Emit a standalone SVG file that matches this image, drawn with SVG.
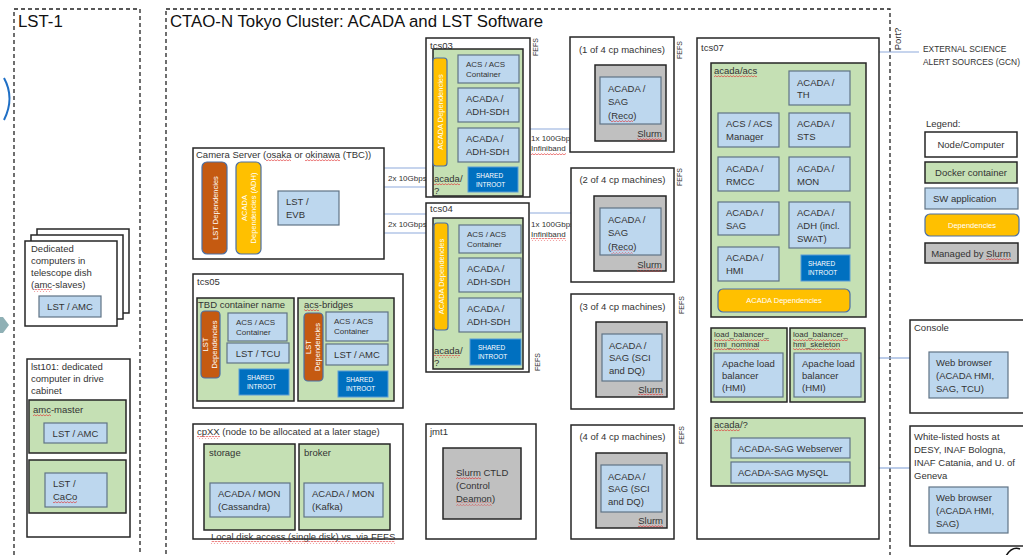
<svg xmlns="http://www.w3.org/2000/svg" width="1023" height="555" viewBox="0 0 1023 555">
<defs>
<pattern id="squig" patternUnits="userSpaceOnUse" width="3" height="3">
<path d="M0,2.2 L1.5,0.6 L3,2.2" fill="none" stroke="#e03030" stroke-width="0.7"/>
</pattern>
</defs>
<style>
.node{fill:#fff;stroke:#262626;stroke-width:1.5}
.cont{fill:#c5e0b4;stroke:#262626;stroke-width:1.5}
.app{fill:#bdd7ee;stroke:#5f7385;stroke-width:1.2}
.slurm{fill:#c0c0c0;stroke:#262626;stroke-width:1.5}
.dep{fill:#ffc000;stroke:#4a6fa5;stroke-width:1.2}
.ldep{fill:#c55a11;stroke:#4a6fa5;stroke-width:1.2}
.intro{fill:#0070c0;stroke:#5b9bd5;stroke-width:1}
.dash{fill:none;stroke:#222;stroke-width:1.3;stroke-dasharray:4 3}
.link{stroke:#8eaadb;stroke-width:1.2;fill:none}
.sq{fill:url(#squig)}
text{font-family:"Liberation Sans",Arial,sans-serif;fill:#333}
.t{font-size:9.5px}
.s{font-size:8px}
.xs{font-size:6.5px;fill:#fff}
.w{fill:#fff;font-size:7.5px}
.h{font-size:16.8px;fill:#111}
.f{font-size:7px}
.m{text-anchor:middle}
.e{text-anchor:end}
</style>

<!-- frames -->
<g id="lst1-frame">
<rect class="dash" x="14" y="9" width="126" height="560"/>
<text class="h" x="18" y="27">LST-1</text>
<path d="M4,78 Q15,98 4,120" fill="none" stroke="#1f6fc5" stroke-width="2"/>
<polygon points="0,317 3,317 9,325 3,333 0,333" fill="#8fb0b5"/>
</g>
<g id="ctao-frame">
<rect class="dash" x="166" y="9" width="724" height="560"/>
<text class="h" x="170" y="27">CTAO-N Tokyo Cluster: ACADA and LST Software</text>
</g>

<!-- connectors -->
<g id="connectors">
<line class="link" x1="384" y1="168" x2="426" y2="168"/>
<line class="link" x1="384" y1="187" x2="426" y2="187"/>
<line class="link" x1="384" y1="214" x2="426" y2="214"/>
<line class="link" x1="384" y1="233" x2="426" y2="233"/>
<line class="link" x1="530" y1="129" x2="571" y2="129"/>
<line class="link" x1="530" y1="213" x2="571" y2="213"/>
<line class="link" x1="879" y1="52" x2="919" y2="52"/>
<line class="link" x1="879" y1="358" x2="910" y2="358"/>
<line class="link" x1="879" y1="468" x2="910" y2="468"/>
<text class="s" x="388" y="181">2x 10Gbps</text>
<text class="s" x="388" y="227">2x 10Gbps</text>
<text class="s" x="531" y="141">1x 100Gbps</text>
<text class="s" x="531" y="151">Infiniband</text>
<text class="s" x="531" y="227">1x 100Gbps</text>
<text class="s" x="531" y="237">Infiniband</text>
<rect class="sq" x="531" y="152" width="35" height="3"/>
<rect class="sq" x="531" y="238" width="35" height="3"/>
<text class="f m" transform="rotate(-90 538 47)" x="538" y="47">FEFS</text>
<text class="f m" transform="rotate(-90 682 50)" x="682" y="50">FEFS</text>
<text class="f m" transform="rotate(-90 682 177)" x="682" y="177">FEFS</text>
<text class="f m" transform="rotate(-90 684 305)" x="684" y="305">FEFS</text>
<text class="f m" transform="rotate(-90 540 362)" x="540" y="362">FEFS</text>
<text class="f m" transform="rotate(-90 684 435)" x="684" y="435">FEFS</text>
<text class="t m" transform="rotate(-90 901 39)" x="901" y="39">Port?</text>
</g>

<!-- LST-1 nodes -->
<g id="amc-slaves">
<rect class="node" x="37" y="229" width="92" height="84"/>
<rect class="node" x="31" y="235" width="92" height="84"/>
<rect class="node" x="25" y="241" width="92" height="85"/>
<text class="t" x="31" y="252">Dedicated<tspan x="31" dy="12">computers in</tspan><tspan x="31" dy="12">telescope dish</tspan><tspan x="31" dy="12">(amc-slaves)</tspan></text>
<rect class="sq" x="34" y="289" width="18" height="3"/>
<rect class="app" x="39" y="296" width="62" height="21"/>
<text class="t m" x="70" y="310">LST / AMC</text>
</g>
<g id="lst101">
<rect class="node" x="27" y="359" width="103" height="178"/>
<text class="t" x="31" y="370">lst101: dedicated<tspan x="31" dy="12">computer in drive</tspan><tspan x="31" dy="12">cabinet</tspan></text>
<rect class="cont" x="29" y="400" width="97" height="53"/>
<text class="t" x="33" y="413">amc-master</text>
<rect class="sq" x="33" y="414" width="18" height="3"/>
<rect class="app" x="44" y="423" width="63" height="20"/>
<text class="t m" x="75.5" y="436.5">LST / AMC</text>
<rect class="cont" x="29" y="460" width="97" height="53"/>
<rect class="app" x="45" y="473" width="62" height="34"/>
<text class="t" x="53" y="487">LST /<tspan x="53" dy="13">CaCo</tspan></text>
<rect class="sq" x="53" y="501" width="24" height="3"/>
</g>

<!-- Camera server -->
<g id="camera-server">
<rect class="node" x="193" y="148" width="191" height="111"/>
<text class="t" x="196" y="157.5">Camera Server (osaka or okinawa (TBC))</text>
<rect class="sq" x="266" y="158.5" width="25" height="3"/>
<rect class="sq" x="305" y="158.5" width="35" height="3"/>
<rect class="ldep" x="202" y="162" width="25" height="92" rx="5"/>
<text class="w m" transform="rotate(-90 214.5 208)" x="214.5" y="211">LST Dependencies</text>
<rect class="dep" x="236" y="162" width="25" height="92" rx="5"/>
<text class="w m" transform="rotate(-90 248.5 208)" x="248.5" y="206">ACADA<tspan x="248.5" dy="9">Dependencies (ADH)</tspan></text>
<rect class="app" x="278" y="191" width="61" height="34"/>
<text class="t" x="286" y="205">LST /<tspan x="286" dy="13">EVB</tspan></text>
</g>

<!-- tcs03 -->
<g id="tcs03">
<rect class="node" x="426" y="38" width="104" height="159"/>
<text class="t" x="430" y="49">tcs03</text>
<rect class="cont" x="433" y="49" width="90" height="147"/>
<rect class="dep" x="433" y="58" width="14" height="108" rx="3"/>
<text class="w m" transform="rotate(-90 440 112)" x="440" y="114.5">ACADA Dependencies</text>
<rect class="app" x="458" y="55" width="61" height="28"/>
<text class="s" x="466" y="67">ACS / ACS<tspan x="466" dy="10">Container</tspan></text>
<rect class="app" x="458" y="88" width="61" height="34"/>
<text class="t" x="466" y="102">ACADA /<tspan x="466" dy="13">ADH-SDH</tspan></text>
<rect class="app" x="458" y="128" width="61" height="34"/>
<text class="t" x="466" y="142">ACADA /<tspan x="466" dy="13">ADH-SDH</tspan></text>
<rect class="intro" x="468" y="167" width="50" height="25"/>
<text class="xs" x="476" y="178">SHARED<tspan x="476" dy="9">INTROOT</tspan></text>
<text class="t" x="434" y="181.5">acada/<tspan x="434" dy="12">?</tspan></text>
<rect class="sq" x="434" y="182.5" width="26" height="3"/>
</g>

<!-- tcs04 -->
<g id="tcs04">
<rect class="node" x="426" y="203" width="103" height="169"/>
<text class="t" x="430" y="211.5">tcs04</text>
<rect class="cont" x="433" y="218" width="90" height="151"/>
<rect class="dep" x="434" y="223" width="14" height="107" rx="3"/>
<text class="w m" transform="rotate(-90 441 276.5)" x="441" y="279">ACADA Dependencies</text>
<rect class="app" x="459" y="225" width="62" height="28"/>
<text class="s" x="467" y="237">ACS / ACS<tspan x="467" dy="10">Container</tspan></text>
<rect class="app" x="459" y="258" width="62" height="34"/>
<text class="t" x="467" y="272">ACADA /<tspan x="467" dy="13">ADH-SDH</tspan></text>
<rect class="app" x="459" y="298" width="62" height="34"/>
<text class="t" x="467" y="312">ACADA /<tspan x="467" dy="13">ADH-SDH</tspan></text>
<rect class="intro" x="470" y="339" width="51" height="26"/>
<text class="xs" x="478" y="350">SHARED<tspan x="478" dy="9">INTROOT</tspan></text>
<text class="t" x="434" y="354">acada/<tspan x="434" dy="12">?</tspan></text>
<rect class="sq" x="434" y="355" width="26" height="3"/>
</g>

<!-- tcs05 -->
<g id="tcs05">
<rect class="node" x="193" y="274" width="210" height="134"/>
<text class="t" x="197" y="285">tcs05</text>
<rect class="cont" x="197" y="298" width="97" height="103"/>
<text class="t" x="198" y="308">TBD container name</text>
<rect class="ldep" x="201" y="311" width="19" height="67" rx="4"/>
<text class="w m" transform="rotate(-90 210.5 344.5)" x="210.5" y="342">LST<tspan x="210.5" dy="9">Dependencies</tspan></text>
<rect class="app" x="228" y="313" width="59" height="28"/>
<text class="s" x="236" y="325">ACS / ACS<tspan x="236" dy="10">Container</tspan></text>
<rect class="app" x="227" y="343" width="62" height="20"/>
<text class="t m" x="258" y="356.5">LST / TCU</text>
<rect class="intro" x="239" y="369" width="50" height="26"/>
<text class="xs" x="247" y="380">SHARED<tspan x="247" dy="9">INTROOT</tspan></text>
<rect class="cont" x="298" y="298" width="96" height="103"/>
<text class="t" x="304" y="308">acs-bridges</text>
<rect class="sq" x="304" y="309" width="15" height="3"/>
<rect class="ldep" x="304" y="313" width="19" height="68" rx="4"/>
<text class="w m" transform="rotate(-90 313.5 347)" x="313.5" y="344.5">LST<tspan x="313.5" dy="9">Dependencies</tspan></text>
<rect class="app" x="326" y="312" width="62" height="29"/>
<text class="s" x="334" y="324">ACS / ACS<tspan x="334" dy="10">Container</tspan></text>
<rect class="app" x="326" y="344" width="62" height="21"/>
<text class="t m" x="357" y="358">LST / AMC</text>
<rect class="intro" x="338" y="371" width="50" height="26"/>
<text class="xs" x="346" y="382">SHARED<tspan x="346" dy="9">INTROOT</tspan></text>
</g>

<!-- cpXX -->
<g id="cpXX">
<rect class="node" x="193" y="424" width="210" height="115"/>
<text class="t" x="197" y="435">cpXX (node to be allocated at a later stage)</text>
<rect class="sq" x="197" y="436" width="23" height="3"/>
<rect class="cont" x="204" y="444" width="91" height="86"/>
<text class="t" x="209" y="456">storage</text>
<rect class="app" x="210" y="483" width="80" height="34"/>
<text class="t" x="218" y="497">ACADA / MON<tspan x="218" dy="13">(Cassandra)</tspan></text>
<rect class="cont" x="299" y="444" width="91" height="86"/>
<text class="t" x="304" y="456">broker</text>
<rect class="app" x="304" y="483" width="79" height="34"/>
<text class="t" x="312" y="497">ACADA / MON<tspan x="312" dy="13">(Kafka)</tspan></text>
<text class="t" x="211" y="540">Local disk access (single disk) vs. via FEFS</text>
<rect class="sq" x="211" y="541" width="184" height="3"/>
</g>

<!-- jmt1 -->
<g id="jmt1">
<rect class="node" x="426" y="424" width="110" height="115"/>
<text class="t" x="430" y="435">jmt1</text>
<rect class="slurm" x="443" y="448" width="78" height="71"/>
<text class="t" x="456" y="475.5">Slurm CTLD<tspan x="456" dy="13">(Control</tspan><tspan x="456" dy="13">Deamon)</tspan></text>
<rect class="sq" x="456" y="476.5" width="25" height="3"/>
<rect class="sq" x="456" y="502.5" width="36" height="3"/>
</g>

<!-- cp machines -->
<g id="cp1">
<rect class="node" x="570" y="37" width="104" height="115"/>
<text class="t m" x="622" y="53">(1 of 4 cp machines)</text>
<rect class="slurm" x="595" y="65" width="71" height="76"/>
<rect class="app" x="600" y="77" width="61" height="47"/>
<text class="t" x="608" y="91.5">ACADA /<tspan x="608" dy="13.5">SAG</tspan><tspan x="608" dy="13.5">(Reco)</tspan></text>
<rect class="sq" x="611" y="119.5" width="22" height="3"/>
<text class="t e" x="662" y="136.5">Slurm</text>
<rect class="sq" x="637" y="137.5" width="25" height="3"/>
</g>
<g id="cp2">
<rect class="node" x="571" y="168" width="103" height="114"/>
<text class="t m" x="622.5" y="182.5">(2 of 4 cp machines)</text>
<rect class="slurm" x="594" y="196" width="72" height="75"/>
<rect class="app" x="600" y="208" width="61" height="47"/>
<text class="t" x="608" y="222.5">ACADA /<tspan x="608" dy="13.5">SAG</tspan><tspan x="608" dy="13.5">(Reco)</tspan></text>
<rect class="sq" x="611" y="250.5" width="22" height="3"/>
<text class="t e" x="662" y="267.5">Slurm</text>
<rect class="sq" x="637" y="268.5" width="25" height="3"/>
</g>
<g id="cp3">
<rect class="node" x="571" y="294" width="103" height="115"/>
<text class="t m" x="622.5" y="309.5">(3 of 4 cp machines)</text>
<rect class="slurm" x="596" y="322" width="71" height="75"/>
<rect class="app" x="602" y="334" width="60" height="47"/>
<text class="t" x="609" y="348.5">ACADA /<tspan x="609" dy="12.5">SAG (SCI</tspan><tspan x="609" dy="12.5">and DQ)</tspan></text>
<text class="t e" x="663" y="392.5">Slurm</text>
<rect class="sq" x="638" y="393.5" width="25" height="3"/>
</g>
<g id="cp4">
<rect class="node" x="571" y="425" width="103" height="114"/>
<text class="t m" x="622.5" y="439.5">(4 of 4 cp machines)</text>
<rect class="slurm" x="596" y="453" width="71" height="75"/>
<rect class="app" x="601" y="465" width="61" height="47"/>
<text class="t" x="608" y="479.5">ACADA /<tspan x="608" dy="12.5">SAG (SCI</tspan><tspan x="608" dy="12.5">and DQ)</tspan></text>
<text class="t e" x="663" y="523.5">Slurm</text>
<rect class="sq" x="638" y="524.5" width="25" height="3"/>
</g>

<!-- tcs07 -->
<g id="tcs07">
<rect class="node" x="697" y="38" width="182" height="501"/>
<text class="t" x="701" y="51">tcs07</text>
<rect class="cont" x="711" y="63" width="155" height="254"/>
<text class="t" x="714" y="74">acada/acs</text>
<rect class="sq" x="714" y="75" width="43" height="3"/>
<rect class="app" x="789" y="71" width="61" height="34"/>
<text class="t" x="797" y="85.5">ACADA /<tspan x="797" dy="12.5">TH</tspan></text>
<rect class="app" x="718" y="113" width="61" height="34"/>
<text class="t" x="726" y="126.5">ACS / ACS<tspan x="726" dy="13">Manager</tspan></text>
<rect class="app" x="789" y="113" width="61" height="34"/>
<text class="t" x="797" y="126.5">ACADA /<tspan x="797" dy="13">STS</tspan></text>
<rect class="app" x="718" y="157" width="61" height="34"/>
<text class="t" x="726" y="171.5">ACADA /<tspan x="726" dy="13">RMCC</tspan></text>
<rect class="app" x="789" y="157" width="61" height="34"/>
<text class="t" x="797" y="171.5">ACADA /<tspan x="797" dy="13">MON</tspan></text>
<rect class="app" x="718" y="202" width="61" height="33"/>
<text class="t" x="726" y="215.5">ACADA /<tspan x="726" dy="13">SAG</tspan></text>
<rect class="app" x="789" y="202" width="61" height="46"/>
<text class="t" x="797" y="215.5">ACADA /<tspan x="797" dy="13">ADH (incl.</tspan><tspan x="797" dy="13">SWAT)</tspan></text>
<rect class="app" x="718" y="247" width="61" height="34"/>
<text class="t" x="726" y="260.5">ACADA /<tspan x="726" dy="13">HMI</tspan></text>
<rect class="intro" x="801" y="255" width="49" height="26"/>
<text class="xs" x="808" y="266">SHARED<tspan x="808" dy="9">INTROOT</tspan></text>
<rect class="dep" x="718" y="289" width="132" height="23" rx="5"/>
<text class="w m" x="784" y="303">ACADA Dependencies</text>
<rect class="cont" x="711" y="328" width="76" height="74"/>
<text class="s" x="714" y="337">load_balancer_<tspan x="714" dy="10">hmi_nominal</tspan></text>
<rect class="sq" x="714" y="338" width="55" height="3"/>
<rect class="sq" x="714" y="348" width="45" height="3"/>
<rect class="app" x="714" y="353" width="69" height="44"/>
<text class="t" x="722" y="366.5">Apache load<tspan x="722" dy="12">balancer</tspan><tspan x="722" dy="12">(HMI)</tspan></text>
<rect class="cont" x="790" y="328" width="75" height="74"/>
<text class="s" x="793" y="337">load_balancer_<tspan x="793" dy="10">hmi_skeleton</tspan></text>
<rect class="sq" x="793" y="338" width="55" height="3"/>
<rect class="sq" x="793" y="348" width="47" height="3"/>
<rect class="app" x="794" y="353" width="67" height="44"/>
<text class="t" x="802" y="366.5">Apache load<tspan x="802" dy="12">balancer</tspan><tspan x="802" dy="12">(HMI)</tspan></text>
<rect class="cont" x="711" y="418" width="154" height="68"/>
<text class="t" x="714" y="428">acada/?</text>
<rect class="sq" x="714" y="429" width="26" height="3"/>
<rect class="app" x="731" y="438" width="119" height="20"/>
<text class="t" x="738" y="451.5">ACADA-SAG Webserver</text>
<rect class="app" x="731" y="462" width="119" height="21"/>
<text class="t" x="738" y="476">ACADA-SAG MySQL</text>
</g>

<!-- external -->
<g id="external">
<text x="923" y="52" style="font-size:8.4px">EXTERNAL SCIENCE<tspan x="923" dy="13">ALERT SOURCES (GCN)</tspan></text>
</g>

<g id="legend">
<text class="t" x="926" y="126.5">Legend:</text>
<rect class="node" x="925" y="132" width="92" height="25"/>
<text class="t m" x="971" y="148">Node/Computer</text>
<rect class="cont" x="925" y="162" width="92" height="21"/>
<text class="t m" x="971" y="176">Docker container</text>
<rect class="app" x="925" y="188" width="93" height="21"/>
<text class="t" x="933" y="202">SW application</text>
<rect class="dep" x="925" y="214" width="94" height="22" rx="5"/>
<text class="w m" x="972" y="228">Dependencies</text>
<rect class="slurm" x="925" y="243" width="93" height="20"/>
<text class="t m" x="971" y="257">Managed by Slurm</text>
<rect class="sq" x="986" y="258" width="25" height="3"/>
</g>

<g id="console">
<rect class="node" x="910" y="320" width="120" height="93"/>
<text class="t" x="914" y="331">Console</text>
<rect class="app" x="929" y="352" width="79" height="46"/>
<text class="t" x="936" y="365.5">Web browser<tspan x="936" dy="13">(ACADA HMI,</tspan><tspan x="936" dy="13">SAG, TCU)</tspan></text>
</g>

<g id="whitelisted">
<rect class="node" x="910" y="426" width="120" height="120"/>
<text class="t" x="914" y="439.5">White-listed hosts at<tspan x="914" dy="13">DESY, INAF Bologna,</tspan><tspan x="914" dy="13">INAF Catania, and U. of</tspan><tspan x="914" dy="13">Geneva</tspan></text>
<rect class="app" x="929" y="487" width="79" height="46"/>
<text class="t" x="936" y="500.5">Web browser<tspan x="936" dy="13">(ACADA HMI,</tspan><tspan x="936" dy="13">SAG)</tspan></text>
</g>
<path d="M1006,556 Q1012,546 1020,549" fill="none" stroke="#111" stroke-width="1.5"/>
</svg>
